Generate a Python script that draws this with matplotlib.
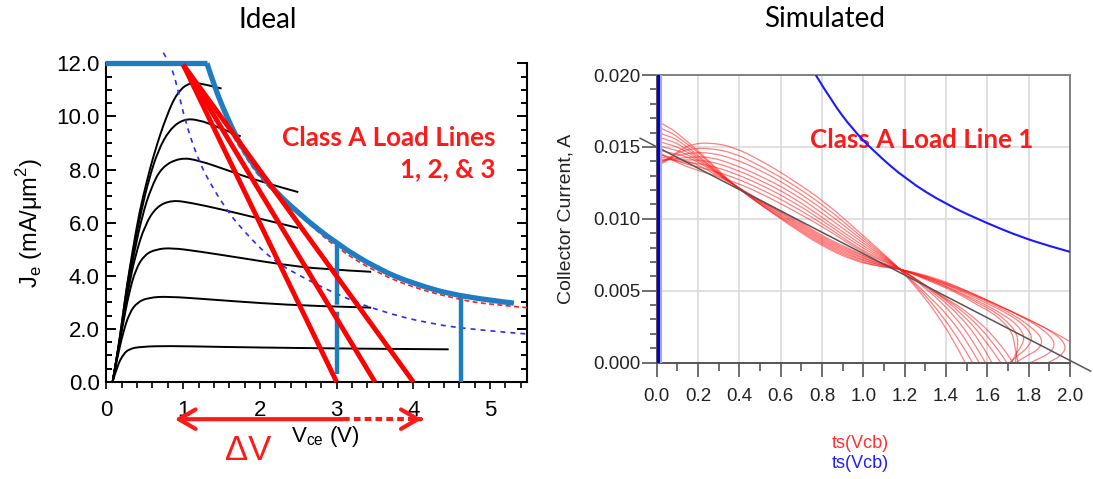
import numpy as np
import matplotlib.pyplot as plt
from matplotlib.path import Path
from matplotlib.patches import PathPatch
from matplotlib.ticker import MultipleLocator, FormatStrFormatter

plt.rcParams.update({'font.family': ['Liberation Sans', 'DejaVu Sans'],
                     'xtick.labelsize': 16,
                     'ytick.labelsize': 16})

# ---------------- Ideal panel data (Vce in V, Je in mA/um^2) ----------------
curve1 = [(0.08, 0), (0.14, 1.0), (0.20, 2.2), (0.27, 3.7), (0.35, 5.1), (0.43, 6.4), (0.52, 7.5),
          (0.63, 8.7), (0.78, 10.0), (0.92, 10.9), (1.09, 11.3), (1.30, 11.2), (1.50, 11.05)]
curve2 = [(0.08, 0), (0.14, 1.0), (0.20, 2.2), (0.27, 3.7), (0.36, 5.1), (0.45, 6.4), (0.55, 7.6),
          (0.67, 8.7), (0.82, 9.5), (1.0, 9.9), (1.2, 9.88), (1.45, 9.6), (1.75, 9.25)]
curve3 = [(0.08, 0), (0.14, 1.0), (0.21, 2.2), (0.28, 3.6), (0.37, 5.0), (0.47, 6.3), (0.58, 7.3),
          (0.72, 8.1), (0.96, 8.45), (1.2, 8.35), (1.6, 7.95), (2.0, 7.55), (2.5, 7.15)]
curve4 = [(0.08, 0), (0.14, 1.0), (0.21, 2.2), (0.29, 3.6), (0.38, 4.8), (0.50, 5.9), (0.65, 6.6),
          (0.85, 6.85), (1.1, 6.75), (1.5, 6.5), (2.0, 6.15), (2.5, 5.8)]
curve5 = [(0.08, 0), (0.14, 1.0), (0.21, 2.1), (0.29, 3.3), (0.38, 4.25), (0.50, 4.8), (0.65, 5.0),
          (0.85, 5.05), (1.2, 4.92), (1.8, 4.65), (2.3, 4.42), (2.8, 4.25), (3.45, 4.15)]
curve6 = [(0.08, 0), (0.14, 0.9), (0.22, 1.9), (0.30, 2.6), (0.40, 3.0), (0.55, 3.18), (0.8, 3.22),
          (1.3, 3.12), (2.0, 2.97), (2.7, 2.86), (3.45, 2.8)]
curve7 = [(0.08, 0), (0.14, 0.6), (0.22, 1.05), (0.30, 1.25), (0.45, 1.33), (0.8, 1.36), (1.5, 1.32),
          (2.5, 1.28), (3.5, 1.25), (4.46, 1.23)]

# safe operating boundary (thick blue): flat current limit, then power limit
soa_flat_v = [-0.02, 1.31]
soa_flat_j = [12.0, 12.0]
soa_curve = [(1.31, 12.0), (1.41, 11.1), (1.57, 9.97), (1.78, 8.72), (2.09, 7.5), (2.48, 6.4),
             (3.0, 5.2), (3.54, 4.25), (4.0, 3.7), (4.62, 3.2), (5.31, 2.97)]

# dashed constant power curves
pwr_blue = [(0.74, 12.4), (0.85, 11.9), (0.94, 10.9), (1.02, 9.9), (1.18, 8.47), (1.35, 7.48),
            (1.57, 6.47), (1.74, 5.84), (2.15, 4.6), (2.64, 3.81), (3.09, 3.19), (3.54, 2.69),
            (4.21, 2.19), (4.89, 1.94), (5.48, 1.81)]
pwr_red = [(1.60, 9.5), (1.80, 8.5), (2.05, 7.5), (2.35, 6.7), (2.66, 5.9), (3.0, 5.05), (3.5, 4.15),
           (4.0, 3.55), (4.6, 3.1), (5.0, 2.92), (5.48, 2.8)]

# vertical voltage limits (dashed at 3 V, solid at 4.62 V)
limit_v = [3.0, 4.62]
limit_top = [5.15, 3.2]
limit_bottom = [0.3, 0.0]

# class A load lines 1, 2, 3
load_start = (1.0, 11.95)
load_end_v = [3.0, 3.5, 4.0]

# delta-V arrow
dv_left, dv_solid_end, dv_right, dv_level = 0.89, 3.08, 4.11, -1.40

# ---------------- Simulated panel data (Vcb in V, Ic in A) ----------------
loop0 = [(0.00, .0168), (0.06, .0164), (0.13, .0156), (0.21, .0146), (0.29, .0135), (0.37, .0124),
         (0.50, .0110), (0.65, .0095), (0.80, .0081), (0.95, .0071), (1.07, .0067), (1.18, .0065),
         (1.35, .0059), (1.50, .0050), (1.65, .0040), (1.80, .0030), (1.95, .0019), (2.05, .0010),
         (2.09, .0002), (2.05, -.0006), (1.90, -.0012), (1.70, -.0012), (1.52, -.0008), (1.45, .0012),
         (1.36, .0033), (1.27, .0050), (1.17, .0066), (1.08, .0078), (0.97, .0092), (0.82, .0111),
         (0.66, .0127), (0.50, .0141), (0.37, .0150), (0.26, .0153), (0.17, .0152), (0.10, .0147),
         (0.05, .0140), (0.00, .0137)]
loop1 = [(0.00, .0164), (0.06, .0161), (0.13, .0154), (0.21, .0145), (0.29, .0134), (0.37, .0124),
         (0.50, .0110), (0.65, .0096), (0.80, .0082), (0.95, .0072), (1.07, .0067), (1.18, .0065),
         (1.35, .0058), (1.50, .0050), (1.65, .0040), (1.80, .0030), (1.92, .0021), (1.98, .0013),
         (1.97, .0006), (1.90, .0000), (1.76, -.0008), (1.56, -.0008), (1.48, .0012), (1.38, .0033),
         (1.28, .0050), (1.17, .0066), (1.08, .0077), (0.97, .0090), (0.82, .0108), (0.66, .0124),
         (0.50, .0137), (0.37, .0146), (0.26, .0149), (0.17, .0149), (0.10, .0146), (0.05, .0141),
         (0.00, .0138)]
loop2 = [(0.00, .0160), (0.06, .0158), (0.13, .0152), (0.21, .0143), (0.29, .0133), (0.37, .0124),
         (0.50, .0110), (0.65, .0097), (0.80, .0083), (0.95, .0073), (1.07, .0068), (1.18, .0065),
         (1.35, .0058), (1.50, .0049), (1.65, .0040), (1.78, .0031), (1.88, .0022), (1.93, .0014),
         (1.91, .0007), (1.84, .0002), (1.72, -.0006), (1.59, -.0008), (1.51, .0013), (1.41, .0033),
         (1.29, .0050), (1.17, .0066), (1.08, .0076), (0.97, .0088), (0.82, .0105), (0.66, .0121),
         (0.50, .0134), (0.37, .0142), (0.26, .0146), (0.17, .0146), (0.10, .0144), (0.05, .0141),
         (0.00, .0139)]
loop3 = [(0.00, .0157), (0.06, .0155), (0.13, .0150), (0.21, .0142), (0.29, .0133), (0.37, .0124),
         (0.50, .0111), (0.65, .0098), (0.80, .0084), (0.95, .0074), (1.07, .0068), (1.18, .0065),
         (1.35, .0057), (1.50, .0049), (1.62, .0041), (1.73, .0033), (1.82, .0024), (1.87, .0016),
         (1.85, .0009), (1.78, .0004), (1.70, -.0004), (1.62, -.0008), (1.54, .0013), (1.44, .0033),
         (1.31, .0051), (1.17, .0066), (1.08, .0075), (0.97, .0086), (0.82, .0102), (0.66, .0118),
         (0.50, .0130), (0.37, .0138), (0.26, .0143), (0.17, .0143), (0.10, .0142), (0.05, .0141),
         (0.00, .0140)]
loop4 = [(0.00, .0154), (0.06, .0152), (0.13, .0148), (0.21, .0141), (0.29, .0132), (0.37, .0124),
         (0.50, .0111), (0.65, .0099), (0.80, .0085), (0.95, .0075), (1.07, .0069), (1.18, .0065),
         (1.35, .0057), (1.50, .0048), (1.60, .0041), (1.70, .0034), (1.78, .0026), (1.82, .0018),
         (1.80, .0011), (1.75, .0005), (1.69, -.0002), (1.65, -.0008), (1.57, .0014), (1.46, .0034),
         (1.32, .0051), (1.17, .0066), (1.08, .0074), (0.97, .0084), (0.82, .0099), (0.66, .0115),
         (0.50, .0127), (0.37, .0135), (0.26, .0140), (0.17, .0141), (0.10, .0141), (0.05, .0141),
         (0.00, .0142)]
loop5 = [(0.00, .0151), (0.06, .0149), (0.13, .0146), (0.21, .0140), (0.29, .0132), (0.37, .0124),
         (0.50, .0112), (0.65, .0100), (0.80, .0086), (0.95, .0076), (1.07, .0069), (1.18, .0065),
         (1.35, .0056), (1.48, .0048), (1.58, .0041), (1.67, .0034), (1.74, .0027), (1.78, .0019),
         (1.77, .0012), (1.73, .0005), (1.70, -.0008), (1.60, .0014), (1.48, .0034), (1.33, .0051),
         (1.17, .0066), (1.08, .0073), (0.97, .0082), (0.82, .0097), (0.66, .0112), (0.50, .0124),
         (0.37, .0132), (0.26, .0137), (0.17, .0139), (0.10, .0140), (0.05, .0142), (0.00, .0144)]
loop6 = [(0.00, .0148), (0.06, .0146), (0.13, .0144), (0.21, .0139), (0.29, .0131), (0.37, .0124),
         (0.50, .0112), (0.65, .0101), (0.80, .0087), (0.95, .0077), (1.07, .0070), (1.18, .0065),
         (1.35, .0056), (1.47, .0048), (1.56, .0041), (1.64, .0035), (1.70, .0028), (1.74, .0021),
         (1.75, .0014), (1.74, .0006), (1.73, -.0008), (1.63, .0014), (1.50, .0034), (1.34, .0050),
         (1.17, .0066), (1.08, .0072), (0.97, .0080), (0.82, .0095), (0.66, .0109), (0.50, .0121),
         (0.37, .0129), (0.26, .0134), (0.17, .0137), (0.10, .0140), (0.05, .0143), (0.00, .0146)]
loop7 = [(0.00, .0145), (0.06, .0143), (0.13, .0141), (0.21, .0137), (0.29, .0130), (0.37, .0124),
         (0.50, .0113), (0.65, .0102), (0.80, .0088), (0.95, .0078), (1.07, .0070), (1.18, .0065),
         (1.35, .0055), (1.46, .0048), (1.54, .0041), (1.62, .0035), (1.68, .0028), (1.72, .0021),
         (1.73, .0014), (1.74, .0006), (1.76, -.0008), (1.66, .0014), (1.52, .0034), (1.34, .0050),
         (1.17, .0066), (1.08, .0071), (0.97, .0079), (0.82, .0093), (0.66, .0106), (0.50, .0118),
         (0.37, .0126), (0.26, .0131), (0.17, .0135), (0.10, .0139), (0.05, .0143), (0.00, .0147)]

loadline_v = [-0.08, 2.10]
loadline_i = [0.0156, -0.0006]

hyper = [(0.77, 0.0200), (0.85, 0.0181), (0.95, 0.0162), (1.05, 0.0147), (1.21, 0.0127),
         (1.40, 0.0110), (1.60, 0.00968), (1.76, 0.00875), (1.90, 0.0081), (2.00, 0.0077)]

vcb_trace_v = 0.006


def smooth(pts, closed=False):
    """Quadratic B-spline style path through the listed points (ends kept)."""
    p = np.asarray(pts + pts[:1] if closed else pts, float)
    verts, codes = [p[0]], [Path.MOVETO]
    for k in range(1, len(p) - 1):
        end = (p[k] + p[k + 1]) / 2 if k < len(p) - 2 else p[k + 1]
        verts += [p[k], end]
        codes += [Path.CURVE3, Path.CURVE3]
    if len(p) == 2:
        verts.append(p[1])
        codes.append(Path.LINETO)
    return Path(verts, codes)


def draw(ax, pts, closed=False, clip=True, **kw):
    patch = PathPatch(smooth(pts, closed), facecolor='none', transform=ax.transData, **kw)
    patch.set_clip_on(clip)
    ax.add_patch(patch)


fig = plt.figure(figsize=(10.93, 4.79), dpi=100)

# ======================= Ideal =======================
ax = fig.add_axes([0.0974, 0.2025, 0.3847, 0.6653])

for c in [curve1, curve2, curve3, curve4, curve5, curve6, curve7]:
    draw(ax, c, edgecolor='black', lw=1.4, zorder=2)

draw(ax, pwr_blue, clip=False, edgecolor='#2b2bff', lw=1.2, linestyle=(0, (3, 3)), zorder=3)
draw(ax, pwr_red, edgecolor='#ff2020', lw=1.2, linestyle=(0, (3, 2)), zorder=3)

ax.plot(soa_flat_v, soa_flat_j, color='#1f7cc1', lw=3.8, clip_on=False, zorder=4,
        solid_capstyle='butt')
draw(ax, soa_curve, clip=False, edgecolor='#1f7cc1', lw=3.8, zorder=4, capstyle='butt')
ax.plot([limit_v[0]] * 2, [limit_bottom[0], limit_top[0]], color='#1f7cc1', lw=3.2,
        dashes=(14, 1.6), zorder=4)
ax.plot([limit_v[1]] * 2, [limit_bottom[1], limit_top[1]], color='#1f7cc1', lw=3.2, zorder=4)

for ve in load_end_v:
    ax.plot([load_start[0], ve], [load_start[1], 0], color='#ff0000', lw=3.5, zorder=5,
            solid_capstyle='butt', clip_on=False)

ax.set_xlim(0, 5.48)
ax.set_ylim(0, 12.0)
ax.spines['top'].set_visible(False)
for s in ['left', 'bottom', 'right']:
    ax.spines[s].set_linewidth(1.5)
ax.xaxis.set_major_locator(MultipleLocator(1))
ax.xaxis.set_minor_locator(MultipleLocator(0.2))
ax.xaxis.set_major_formatter(FormatStrFormatter('%d'))
ax.yaxis.set_major_locator(MultipleLocator(2))
ax.yaxis.set_minor_locator(MultipleLocator(0.5))
ax.yaxis.set_major_formatter(FormatStrFormatter('%.1f'))
ax.tick_params(axis='y', which='both', direction='in', left=True, right=True, width=1.4)
ax.tick_params(axis='y', which='major', length=7, pad=5)
ax.tick_params(axis='y', which='minor', length=4)
ax.tick_params(axis='x', which='both', direction='out', width=1.2)
ax.tick_params(axis='x', which='major', length=5, pad=8)
ax.tick_params(axis='x', which='minor', length=4)

ax.set_ylabel(r'J$_\mathregular{e}$ (mA/μm$^\mathregular{2}$)', fontsize=17)
ax.yaxis.set_label_coords(-0.145, 0.5)
ax.text(0.52, -0.17, r'V$_\mathregular{ce}$ (V)', transform=ax.transAxes, fontsize=16,
        ha='center', va='center')
ax.text(0.336, -0.216, 'ΔV', transform=ax.transAxes, fontsize=25, color='#ff1a1a',
        ha='center', va='center')

head = '->,head_length=0.6,head_width=0.35'
ax.annotate('', xy=(dv_left, dv_level), xytext=(dv_solid_end, dv_level), annotation_clip=False,
            arrowprops=dict(arrowstyle=head, color='#ff1a1a', lw=3, shrinkA=0, shrinkB=0,
                            mutation_scale=20))
ax.plot([dv_solid_end, dv_right - 0.03], [dv_level, dv_level], color='#ff1a1a', lw=3,
        dashes=(1.6, 1), clip_on=False)
ax.annotate('', xy=(dv_right, dv_level), xytext=(dv_right - 0.02, dv_level), annotation_clip=False,
            arrowprops=dict(arrowstyle=head, color='#ff1a1a', lw=3, shrinkA=0, shrinkB=0,
                            mutation_scale=20))

ax.text(5.07, 8.885, 'Class A Load Lines', family='Lato', fontweight='bold', fontsize=18.7,
        color='#ff1a1a', ha='right', va='baseline')
ax.text(5.07, 7.71, '1, 2, & 3', family='Lato', fontweight='bold', fontsize=18.7,
        color='#ff1a1a', ha='right', va='baseline')

# ======================= Simulated =======================
ax2 = fig.add_axes([0.6008, 0.2432, 0.3781, 0.6002])
ax2.set_axisbelow(True)
ax2.grid(True, which='major', color='#dadada', lw=1.2)

for lp in [loop0, loop1, loop2, loop3, loop4, loop5, loop6, loop7]:
    draw(ax2, lp, closed=True, edgecolor='#ff1a1a', lw=0.9, alpha=0.55, zorder=2)

ax2.plot(loadline_v, loadline_i, color='#555555', lw=1.1, clip_on=False, zorder=3)
draw(ax2, hyper, edgecolor='#1a1aff', lw=1.5, zorder=4)
ax2.axvline(vcb_trace_v + 0.012, color='#a8a8ff', lw=3.0, zorder=5)
ax2.axvline(vcb_trace_v, color='#0000e0', lw=2.2, zorder=6)

ax2.set_xlim(0, 2.0)
ax2.set_ylim(0, 0.020)
for s in ['left', 'bottom']:
    ax2.spines[s].set_color('#555555')
for s in ['top', 'right']:
    ax2.spines[s].set_color('#808080')
for s in ax2.spines.values():
    s.set_linewidth(1.4)
ax2.xaxis.set_major_locator(MultipleLocator(0.2))
ax2.xaxis.set_minor_locator(MultipleLocator(0.1))
ax2.xaxis.set_major_formatter(FormatStrFormatter('%.1f'))
ax2.yaxis.set_major_locator(MultipleLocator(0.005))
ax2.yaxis.set_minor_locator(MultipleLocator(0.001))
ax2.yaxis.set_major_formatter(FormatStrFormatter('%.3f'))
ax2.tick_params(which='both', direction='out', color='#555555', width=1.2, labelsize=13.5,
                labelcolor='#222222')
ax2.tick_params(axis='y', which='major', length=11, pad=1)
ax2.tick_params(axis='y', which='minor', length=5)
ax2.tick_params(axis='x', which='major', length=10, pad=8)
ax2.tick_params(axis='x', which='minor', length=6)

ax2.set_ylabel('Collector Current, A', fontsize=14, color='#222222')
ax2.yaxis.set_label_coords(-0.199, 0.5)

ax2.text(0.743, 0.0149, 'Class A Load Line 1', family='Lato', fontweight='bold', fontsize=18.7,
         color='#ff1a1a', ha='left', va='baseline')

fig.text(860 / 1093, 1 - 443 / 479, 'ts(Vcb)', color='#ff3030', fontsize=13, ha='center', va='center')
fig.text(860 / 1093, 1 - 463 / 479, 'ts(Vcb)', color='#2020ff', fontsize=13, ha='center', va='center')

fig.text(268 / 1093, 1 - 20 / 479, 'Ideal', family='Lato', fontsize=20, ha='center', va='center')
fig.text(825 / 1093, 1 - 19 / 479, 'Simulated', family='Lato', fontsize=20, ha='center', va='center')

fig.savefig('out.png', dpi=100)
